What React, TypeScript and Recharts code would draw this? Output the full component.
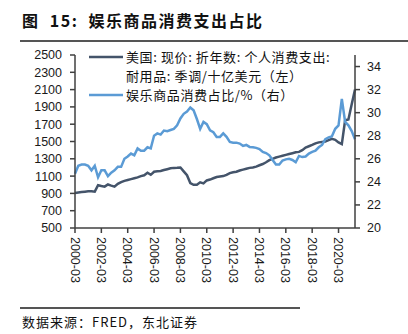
import React from 'react';
import { LineChart, Line, XAxis, YAxis, Legend } from 'recharts';

// quarterly labels 2000-03 .. 2021-06
const quarters: string[] = [];
for (let y = 2000; y <= 2021; y++) {
    for (const m of ['03', '06', '09', '12']) {
        if (y === 2021 && (m === '09' || m === '12')) continue;
        quarters.push(`${y}-${m}`);
    }
}

// 美国 个人消费支出: 耐用品 (十亿美元, 左轴)
const durables = [
    905, 910, 915, 920,
    925, 925, 920, 995,
    985, 978, 1003, 990,
    978, 1010, 1030, 1045,
    1055, 1065, 1075, 1085,
    1100, 1110, 1139, 1115,
    1150, 1155, 1160, 1170,
    1180, 1190, 1195, 1197,
    1200, 1155, 1110, 1020,
    1000, 1000, 1028, 1016,
    1050, 1060, 1075, 1090,
    1095, 1100, 1115, 1135,
    1145, 1150, 1165, 1175,
    1185, 1195, 1200, 1210,
    1225, 1240, 1260, 1285,
    1300, 1315, 1325, 1335,
    1345, 1355, 1365, 1375,
    1380, 1400, 1430, 1445,
    1460, 1478, 1490, 1495,
    1500, 1515, 1530, 1520,
    1490, 1470, 1745, 1755,
    1930, 2100,
];

// 娱乐商品消费占比 (%, 右轴)
const recShare = [
    24.7, 25.4, 25.5, 25.5,
    25.4, 25.0, 25.4, 24.4,
    25.0, 25.0, 24.5, 24.8,
    25.0, 25.3, 25.3, 26.0,
    26.2, 26.45, 26.3, 26.9,
    26.7, 26.7, 27.0, 26.9,
    28.0, 28.2, 28.1, 28.45,
    28.4, 28.5, 28.6, 28.9,
    29.5, 29.9, 30.1, 30.45,
    30.2, 29.45, 28.6, 29.2,
    29.0, 28.47, 28.3, 27.9,
    27.9, 28.2, 27.9, 27.46,
    27.4, 27.4, 27.32, 27.12,
    27.2, 27.03, 27.0, 26.95,
    26.85, 26.6, 26.5, 26.3,
    25.9, 25.5, 25.5, 25.85,
    25.95, 26.0, 25.9, 25.7,
    26.25, 26.15, 26.2, 26.45,
    26.6, 26.7, 27.0, 27.2,
    27.7, 27.85, 27.95, 28.6,
    28.9, 31.2, 29.2, 28.9,
    28.4, 27.7,
];

const leftTicks = [500, 700, 900, 1100, 1300, 1500, 1700, 1900, 2100, 2300, 2500];
const rightTicks = [20, 22, 24, 26, 28, 30, 32, 34];

const data = quarters.map((q, i) => ({ date: q, durables: durables[i], share: recShare[i] }));

const DARK = '#44546A';
const LIGHT = '#5B9BD5';
const AXIS = '#404040';
const tickFont = { fontFamily: '"Liberation Sans", Arial, sans-serif', fontSize: 12.5, fill: '#1a1a1a' };
const cjk = '"Noto Sans CJK SC", sans-serif';

const DateTick = (props: any) => {
    const { x, y, payload } = props;
    return (
        <text x={x} y={y} dy="0.35em" transform={`rotate(90, ${x}, ${y})`} textAnchor="start" {...tickFont}>
            {payload.value}
        </text>
    );
};

const row = { display: 'flex', alignItems: 'center', height: 19 };

const LegendBox = () => (
    <div style={{ fontFamily: cjk, fontSize: 13, color: '#111', lineHeight: 1, letterSpacing: 0.6, whiteSpace: 'nowrap' }}>
        <div style={row}>
            <svg width={36} height={6}><line x1={1} x2={35} y1={3} y2={3} stroke={DARK} strokeWidth={2.5} /></svg>
            <span style={{ marginLeft: 2 }}>美国: 现价: 折年数: 个人消费支出:</span>
        </div>
        <div style={{ ...row, paddingLeft: 38 }}>
            <span>耐用品: 季调/十亿美元（左）</span>
        </div>
        <div style={row}>
            <svg width={36} height={6}><line x1={1} x2={35} y1={3} y2={3} stroke={LIGHT} strokeWidth={2.5} /></svg>
            <span style={{ marginLeft: 2 }}>娱乐商品消费占比/%（右）</span>
        </div>
    </div>
);

export default function App() {
    return (
        <div style={{ position: 'absolute', left: 0, top: 0, width: 408, height: 334, background: '#fff' }}>
            <div style={{ position: 'absolute', left: 22, top: 8, fontFamily: cjk, fontWeight: 700, fontSize: 16, letterSpacing: 1.5, color: '#111', whiteSpace: 'pre' }}>
                {'图  15:  娱乐商品消费支出占比'}
            </div>
            <div style={{ position: 'absolute', left: 20, top: 40, width: 388, height: 1.5, background: '#555' }} />

            <LineChart width={408} height={334} data={data} margin={{ top: 55, right: 0, bottom: 46, left: 0 }}>
                <XAxis
                    dataKey="date"
                    interval={7}
                    tick={<DateTick />}
                    tickSize={5}
                    tickMargin={4}
                    height={60}
                    stroke={AXIS}
                    strokeWidth={1.5}
                />
                <YAxis
                    yAxisId="left"
                    domain={[500, 2500]}
                    ticks={leftTicks}
                    interval={0}
                    width={75}
                    tickSize={5}
                    tickMargin={8}
                    tick={tickFont}
                    stroke={AXIS}
                    strokeWidth={1.5}
                    allowDataOverflow
                />
                <YAxis
                    yAxisId="right"
                    orientation="right"
                    domain={[20, 35]}
                    ticks={rightTicks}
                    interval={0}
                    width={53}
                    tickSize={5}
                    tickMargin={7}
                    tick={tickFont}
                    stroke={AXIS}
                    strokeWidth={1.5}
                    allowDataOverflow
                />
                <Legend
                    layout="vertical"
                    align="center"
                    verticalAlign="middle"
                    content={<LegendBox />}
                    wrapperStyle={{ left: 88, top: 47, width: 290 }}
                />
                <Line yAxisId="left" dataKey="durables" stroke={DARK} strokeWidth={2.5} dot={false} isAnimationActive={false} />
                <Line yAxisId="right" dataKey="share" stroke={LIGHT} strokeWidth={2.5} dot={false} isAnimationActive={false} />
            </LineChart>

            <div style={{ position: 'absolute', left: 20, top: 307, width: 280, height: 1.5, background: '#555' }} />
            <div style={{ position: 'absolute', left: 22, top: 312, fontFamily: cjk, fontSize: 13, letterSpacing: 1, color: '#111', whiteSpace: 'nowrap' }}>
                数据来源：FRED，东北证券
            </div>
        </div>
    );
}
